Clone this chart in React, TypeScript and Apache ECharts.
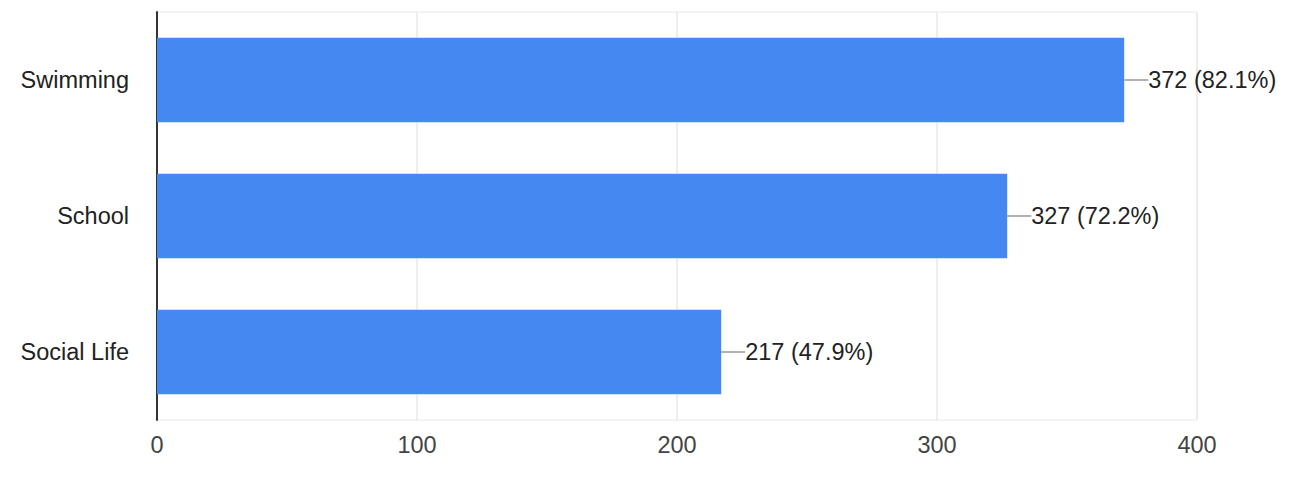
import React, { useEffect, useRef } from "react";
import * as echarts from "echarts";

const categories = ["Swimming", "School", "Social Life"];
const counts = [372, 327, 217];
const percents = ["82.1%", "72.2%", "47.9%"];
const xTicks = [0, 100, 200, 300, 400];

export default function App() {
  const ref = useRef<HTMLDivElement>(null);
  useEffect(() => {
    document.body.style.margin = "0";
    const chart = echarts.init(ref.current!, null, { renderer: "svg" });
    const font = "'Liberation Sans', Arial, sans-serif";
    chart.setOption({
      animation: false,
      backgroundColor: "#ffffff",
      grid: {
        left: 157,
        right: 95,
        top: 12,
        bottom: 62,
        show: true,
        borderColor: "#e8e8e8",
        borderWidth: 1,
      },
      xAxis: {
        type: "value",
        min: xTicks[0],
        max: xTicks[xTicks.length - 1],
        interval: 100,
        axisLine: { show: false },
        axisTick: { show: false },
        splitLine: { show: true, lineStyle: { color: "#e8e8e8", width: 1.5 } },
        axisLabel: {
          color: "#444444",
          fontSize: 23.5,
          fontFamily: font,
          margin: 13,
        },
      },
      yAxis: {
        type: "category",
        data: categories,
        inverse: true,
        axisTick: { show: false },
        axisLine: { show: true, lineStyle: { color: "#333333", width: 2 } },
        splitLine: { show: false },
        axisLabel: {
          color: "#222222",
          fontSize: 23.5,
          fontFamily: font,
          margin: 28,
        },
      },
      series: [
        {
          type: "bar",
          data: counts,
          barCategoryGap: "38%",
          itemStyle: { color: "#4688F1" },
          z: 2,
        },
        {
          type: "custom",
          data: counts.map((v, i) => [v, i]),
          z: 3,
          renderItem: (params: any, api: any) => {
            const i = params.dataIndex;
            const p = api.coord([api.value(0), api.value(1)]);
            return {
              type: "group",
              children: [
                {
                  type: "line",
                  shape: { x1: p[0], y1: p[1], x2: p[0] + 24, y2: p[1] },
                  style: { stroke: "#999999", lineWidth: 1.5 },
                },
                {
                  type: "text",
                  x: p[0] + 24,
                  y: p[1],
                  style: {
                    text: `${counts[i]} (${percents[i]})`,
                    fill: "#222222",
                    fontSize: 23.5,
                    fontFamily: font,
                    verticalAlign: "middle",
                    align: "left",
                  },
                },
              ],
            };
          },
        },
      ],
    });
    return () => chart.dispose();
  }, []);
  return <div ref={ref} style={{ width: 1292, height: 482 }} />;
}
